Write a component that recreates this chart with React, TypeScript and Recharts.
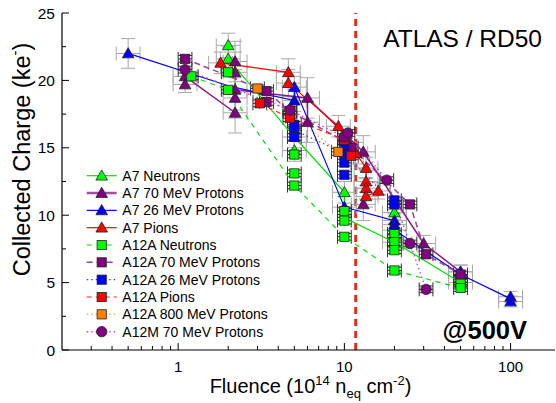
import React from 'react';
import { ScatterChart, Scatter, XAxis, YAxis, ErrorBar, ReferenceLine, Legend } from 'recharts';

type P = number[];

// ---------- data (x = fluence 1e14 neq/cm2, y = collected charge ke-, [ey]) ----------
const A7_NEUTRONS: P[] = [[2, 22.6, 0.9], [2, 21.6, 0.9], [5, 15.8, 0.8], [5, 14.8, 0.8], [10, 11.7, 0.8], [20, 10.2, 0.8], [20, 8.0, 0.6], [50, 5.0, 0.5]];
const A7_NEUTRONS_LINES: P[][] = [[[2, 21.6], [5, 15.8], [10, 11.7], [10, 9.8], [20, 8.0], [50, 5.0]]];

const A7_70MEV: P[] = [[1.1, 20.3, 0.6], [1.1, 19.7, 0.6], [2.2, 21.4, 1.5], [2.2, 20.6, 1.5], [2.2, 19.3, 1.5], [2.2, 18.7, 1.5], [2.2, 17.6, 1.5], [6, 18.7, 1.5], [6, 16.9, 1.5], [13, 14.7, 1.2], [13, 10.8, 1.2], [30, 7.9, 0.6], [50, 5.8, 0.5]];
const A7_70MEV_LINES: P[][] = [
  [[1.1, 20.3], [2.2, 17.6]],
  [[2.2, 19.3], [6, 18.7], [6, 16.9]],
  [[6, 18.7], [13, 14.7], [30, 7.9], [50, 5.8]],
];

const A7_26MEV: P[] = [[0.5, 22.0, 1.1], [5, 19.5, 0.8], [5, 18.5, 0.8], [10, 10.6, 0.8], [20, 9.6, 0.8], [20, 9.3, 0.8], [20, 8.9, 0.8], [50, 5.8, 0.5], [100, 3.95, 0.4], [100, 3.6, 0.4]];
const A7_26MEV_LINES: P[][] = [[[0.5, 22.0], [2, 19.6], [5, 18.5], [5, 19.5], [10, 10.6], [20, 9.6], [20, 8.9], [50, 5.6], [100, 3.8]]];

const A7_PIONS: P[] = [[1.8, 21.3, 0.8], [4.6, 20.6, 1.0], [4.6, 19.8, 1.0], [9.2, 16.6, 0.8], [11.7, 14.6, 0.8], [13.5, 13.5, 0.8], [13.5, 12.5, 0.8], [13.5, 12.0, 0.8], [13.5, 11.4, 0.8], [16, 11.8, 0.6]];
const A7_PIONS_LINES: P[][] = [[[1.8, 21.3], [4.6, 20.6], [4.6, 19.8], [9.2, 16.6], [11.7, 14.6], [13.5, 13.5], [13.5, 11.4], [16, 11.8]]];

const A12A_NEUTRONS: P[] = [[1.2, 20.3], [2, 20.6], [2, 19.3], [5, 14.5], [5, 13.1], [5, 12.2], [10, 10.3], [10, 9.6], [10, 8.4], [20, 8.6], [20, 8.0], [20, 7.4], [20, 5.9], [50, 5.3], [50, 5.0], [50, 4.6]];
const A12A_NEUTRONS_LINES: P[][] = [[[1.2, 20.3], [2, 19.3], [5, 12.2], [10, 8.4], [20, 5.9], [50, 4.6]]];

const A12A_70MEV: P[] = [[1.1, 21.6], [3.4, 19.2], [3.4, 18.4], [4.7, 17.7], [10, 15.5], [11, 15.0], [24.8, 10.8], [31, 7.1], [50, 5.6]];
const A12A_70MEV_LINES: P[][] = [[[1.1, 21.6], [3.4, 19.2], [4.7, 17.7], [10, 15.5], [24.8, 10.8], [31, 7.1], [50, 5.6]]];

const A12A_26MEV: P[] = [[5, 16.7], [5, 16.3], [5, 15.8], [10, 15.2], [10, 14.6], [10, 13.9], [10, 13.0], [20, 11.1], [20, 10.8]];
const A12A_26MEV_LINES: P[][] = [[[5, 16.3], [10, 14.6], [20, 10.8]]];

const A12A_PIONS: P[] = [[3.1, 18.3], [4.7, 17.2], [10, 15.6], [11, 14.4]];
const A12A_PIONS_LINES: P[][] = [[[3.1, 18.3], [4.7, 17.2], [10, 15.6], [11, 14.4]]];

const A12A_800MEV: P[] = [[3.0, 19.4], [9.2, 14.7]];
const A12A_800MEV_LINES: P[][] = [[[3.0, 19.4], [9.2, 14.7]]];

const A12M_70MEV: P[] = [[1.1, 20.8], [4.7, 17.8], [10, 15.8], [10.5, 16.1], [18, 12.6], [24.8, 7.9], [31, 4.5]];
const A12M_70MEV_LINES: P[][] = [[[1.1, 20.8], [4.7, 17.8], [10, 15.8], [10.5, 16.1], [18, 12.6], [24.8, 7.9], [31, 4.5]]];

const VERTICAL_LINE_X = 11.7;

const X_TICKS = [0.3, 0.4, 0.5, 0.6, 0.7, 0.8, 0.9, 1, 2, 3, 4, 5, 6, 7, 8, 9, 10, 20, 30, 40, 50, 60, 70, 80, 90, 100];
const X_MAJOR = [1, 10, 100];
const Y_TICKS = [0, 2.5, 5, 7.5, 10, 12.5, 15, 17.5, 20, 22.5, 25];
const Y_MAJOR = [0, 5, 10, 15, 20, 25];

const FONT = "'Liberation Sans', Arial, sans-serif";

type Kind = 'tri' | 'sq' | 'circ';
interface Series {
  name: string;
  points: P[];
  lines: P[][];
  fill: string;
  lineColor: string;
  lineWidth: number;
  dash?: string;
  legendWidth?: number;
  legendColor?: string;
  kind: Kind;
  errColor: string;
  exFrac: number;
  eyDefault: number;
}

const SERIES: Series[] = [
  { name: 'A7 Neutrons', points: A7_NEUTRONS, lines: A7_NEUTRONS_LINES, fill: '#00ff00', lineColor: '#00e000', lineWidth: 1.2, kind: 'tri', errColor: '#a8a8a8', exFrac: 0.18, eyDefault: 0.8 },
  { name: 'A7 70 MeV Protons', points: A7_70MEV, lines: A7_70MEV_LINES, fill: '#800080', lineColor: '#8a1a8a', lineWidth: 1.5, legendWidth: 2.5, legendColor: '#a050a0', kind: 'tri', errColor: '#a8a8a8', exFrac: 0.18, eyDefault: 0.8 },
  { name: 'A7 26 MeV Protons', points: A7_26MEV, lines: A7_26MEV_LINES, fill: '#0000ff', lineColor: '#0000ff', lineWidth: 1.2, kind: 'tri', errColor: '#a8a8a8', exFrac: 0.18, eyDefault: 0.8 },
  { name: 'A7 Pions', points: A7_PIONS, lines: A7_PIONS_LINES, fill: '#ff0000', lineColor: '#ff0000', lineWidth: 1.2, kind: 'tri', errColor: '#a8a8a8', exFrac: 0.18, eyDefault: 0.8 },
  { name: 'A12A Neutrons', points: A12A_NEUTRONS, lines: A12A_NEUTRONS_LINES, fill: '#00ff00', lineColor: '#00e000', lineWidth: 1.2, dash: '5 5', kind: 'sq', errColor: '#303030', exFrac: 0.1, eyDefault: 0.25 },
  { name: 'A12A 70 MeV Protons', points: A12A_70MEV, lines: A12A_70MEV_LINES, fill: '#800080', lineColor: '#a040a0', lineWidth: 1.5, dash: '6 4', kind: 'sq', errColor: '#303030', exFrac: 0.1, eyDefault: 0.25 },
  { name: 'A12A  26 MeV Protons', points: A12A_26MEV, lines: A12A_26MEV_LINES, fill: '#0000ff', lineColor: '#4040ff', lineWidth: 1.2, dash: '1.5 3', kind: 'sq', errColor: '#303030', exFrac: 0.1, eyDefault: 0.25 },
  { name: 'A12A Pions', points: A12A_PIONS, lines: A12A_PIONS_LINES, fill: '#ff0000', lineColor: '#ff2020', lineWidth: 1.2, dash: '5 4', kind: 'sq', errColor: '#303030', exFrac: 0.1, eyDefault: 0.25 },
  { name: 'A12A 800 MeV Protons', points: A12A_800MEV, lines: A12A_800MEV_LINES, fill: '#ff8000', lineColor: '#ffa860', lineWidth: 1.5, dash: '1.5 3', kind: 'sq', errColor: '#303030', exFrac: 0.1, eyDefault: 0.25 },
  { name: 'A12M 70 MeV Protons', points: A12M_70MEV, lines: A12M_70MEV_LINES, fill: '#800080', lineColor: '#c050c0', lineWidth: 1.5, dash: '1.5 3', kind: 'circ', errColor: '#303030', exFrac: 0.1, eyDefault: 0.25 },
];

function Marker({ kind, cx, cy, fill }: { kind: Kind; cx: number; cy: number; fill: string }) {
  if (cx == null || cy == null || isNaN(cx) || isNaN(cy)) return <g />;
  if (kind === 'tri') {
    return <polygon points={`${cx},${cy - 5.8} ${cx + 5.8},${cy + 4.4} ${cx - 5.8},${cy + 4.4}`} fill={fill} stroke="#222" strokeWidth={0.8} />;
  }
  if (kind === 'sq') {
    return <rect x={cx - 4.6} y={cy - 4.6} width={9.2} height={9.2} fill={fill} stroke="#222" strokeWidth={0.8} />;
  }
  return <circle cx={cx} cy={cy} r={5.2} fill={fill} stroke="#222" strokeWidth={0.8} />;
}

const toData = (s: Series) =>
  s.points.map(([x, y, ey]) => ({
    x,
    y,
    ex: [x - x / (1 + s.exFrac), x * s.exFrac],
    ey: ey ?? s.eyDefault,
  }));

const BottomTick = (props: any) => {
  const { x, y, payload } = props;
  const v = payload.value;
  const major = X_MAJOR.includes(v);
  return (
    <g>
      <line x1={x} x2={x} y1={y} y2={y - (major ? 7 : 4)} stroke="#000" strokeWidth={1} />
      {major && (
        <text x={x} y={y + 22} textAnchor="middle" fontSize={15} fontFamily={FONT} fill="#000">
          {v}
        </text>
      )}
    </g>
  );
};
const TopTick = (props: any) => {
  const { x, y, payload } = props;
  const major = X_MAJOR.includes(payload.value);
  return <line x1={x} x2={x} y1={y} y2={y + (major ? 7 : 4)} stroke="#000" strokeWidth={1} />;
};
const LeftTick = (props: any) => {
  const { x, y, payload } = props;
  const v = payload.value;
  const major = Y_MAJOR.includes(v);
  return (
    <g>
      <line x1={x} x2={x + (major ? 7 : 4)} y1={y} y2={y} stroke="#000" strokeWidth={1} />
      {major && (
        <text x={x - 7} y={y + 5.5} textAnchor="end" fontSize={15.5} fontFamily={FONT} fill="#000">
          {v}
        </text>
      )}
    </g>
  );
};
const RightTick = (props: any) => {
  const { x, y, payload } = props;
  const major = Y_MAJOR.includes(payload.value);
  return <line x1={x} x2={x - (major ? 7 : 4)} y1={y} y2={y} stroke="#000" strokeWidth={1} />;
};

// bottom-axis title plus the in-plot annotations (placed relative to the axis box)
const XTitle = (props: any) => {
  const vb = props.viewBox;
  const right = vb.x + vb.width;
  return (
    <g>
      <text x={vb.x + vb.width / 2 + 2} y={vb.y + 43} textAnchor="middle" fontSize={20} fontFamily={FONT} fill="#000">
        Fluence (10
        <tspan dy={-8} fontSize={13}>14</tspan>
        <tspan dy={8}> n</tspan>
        <tspan dy={5} fontSize={13}>eq</tspan>
        <tspan dy={-5}> cm</tspan>
        <tspan dy={-8} fontSize={13}>-2</tspan>
        <tspan dy={8}>)</tspan>
      </text>
      <text x={right - 13} y={vb.y - 303} textAnchor="end" fontSize={24.5} fontFamily={FONT} fill="#000">
        ATLAS / RD50
      </text>
      <text x={right - 28} y={vb.y - 11} textAnchor="end" fontSize={25.5} fontWeight="bold" fontFamily={FONT} fill="#000">
        @500V
      </text>
    </g>
  );
};
const YTitle = (props: any) => {
  const vb = props.viewBox;
  const cx = 30;
  const cy = vb.y + vb.height / 2 - 22;
  return (
    <text x={cx} y={cy} transform={`rotate(-90 ${cx} ${cy})`} textAnchor="middle" fontSize={23.5} fontFamily={FONT} fill="#000">
      Collected Charge (ke
      <tspan dy={-10} fontSize={15}>-</tspan>
      <tspan dy={10}>)</tspan>
    </text>
  );
};

const LegendBox = () => {
  const rowH = 17.33;
  return (
    <svg width={240} height={180}>
      {SERIES.map((s, i) => {
        const cy = 10.7 + i * rowH;
        return (
          <g key={s.name}>
            <line x1={6.7} x2={36.7} y1={cy} y2={cy} stroke={s.legendColor ?? s.lineColor} strokeWidth={s.legendWidth ?? s.lineWidth} strokeDasharray={s.dash} />
            <Marker kind={s.kind} cx={21.7} cy={cy} fill={s.fill} />
            <text x={42.3} y={cy + 5} fontSize={14} fontFamily={FONT} fill="#000">
              {s.name}
            </text>
          </g>
        );
      })}
    </svg>
  );
};

export default function App() {
  return (
    <div style={{ position: 'absolute', left: 0, top: 0, background: '#fff' }}>
      <ScatterChart width={556} height={403} margin={{ top: 13, right: 1, bottom: 0, left: 0 }}>
        <XAxis
          xAxisId={0}
          dataKey="x"
          type="number"
          scale="log"
          domain={[0.2, 185]}
          allowDataOverflow
          ticks={X_TICKS}
          interval={0}
          height={53}
          tickSize={0}
          tickMargin={0}
          tickLine={false}
          tick={BottomTick}
          axisLine={{ stroke: '#000', strokeWidth: 1.2 }}
          label={XTitle}
        />
        <XAxis
          xAxisId="top"
          orientation="top"
          dataKey="x"
          type="number"
          scale="log"
          domain={[0.2, 185]}
          allowDataOverflow
          ticks={X_TICKS}
          interval={0}
          height={0}
          tickSize={0}
          tickMargin={0}
          tickLine={false}
          tick={TopTick}
          axisLine={{ stroke: '#000', strokeWidth: 1.2 }}
        />
        <YAxis
          yAxisId={0}
          dataKey="y"
          type="number"
          domain={[0, 25]}
          allowDataOverflow
          ticks={Y_TICKS}
          interval={0}
          width={62}
          tickSize={0}
          tickMargin={0}
          tickLine={false}
          tick={LeftTick}
          axisLine={{ stroke: '#000', strokeWidth: 1.2 }}
          label={YTitle}
        />
        <YAxis
          yAxisId="right"
          orientation="right"
          dataKey="y"
          type="number"
          domain={[0, 25]}
          allowDataOverflow
          ticks={Y_TICKS}
          interval={0}
          width={0}
          tickSize={0}
          tickMargin={0}
          tickLine={false}
          tick={RightTick}
          axisLine={{ stroke: '#000', strokeWidth: 1.2 }}
        />
        <Legend
          layout="vertical"
          align="center"
          verticalAlign="middle"
          content={LegendBox}
          wrapperStyle={{ position: 'absolute', left: 80, top: 165, width: 240, height: 180 }}
        />
        <ReferenceLine xAxisId={0} yAxisId={0} x={VERTICAL_LINE_X} stroke="#d8301a" strokeWidth={3} strokeDasharray="7 5" />
        {SERIES.flatMap((s) =>
          s.lines.map((seg, j) => (
            <Scatter
              key={`${s.name}-line-${j}`}
              xAxisId="top"
              yAxisId="right"
              data={seg.map(([x, y]) => ({ x, y }))}
              line={{ stroke: s.lineColor, strokeWidth: s.lineWidth, strokeDasharray: s.dash }}
              shape={() => <g />}
              legendType="none"
              isAnimationActive={false}
            />
          ))
        )}
        {SERIES.map((s) => (
          <Scatter
            key={`${s.name}-pts`}
            name={s.name}
            xAxisId={0}
            yAxisId={0}
            data={toData(s)}
            fill={s.fill}
            shape={(p: any) => <Marker kind={s.kind} cx={p.cx} cy={p.cy} fill={s.fill} />}
            isAnimationActive={false}
          >
            <ErrorBar dataKey="ex" direction="x" width={7} stroke={s.errColor} strokeWidth={1} />
            <ErrorBar dataKey="ey" direction="y" width={7} stroke={s.errColor} strokeWidth={1} />
          </Scatter>
        ))}
      </ScatterChart>
    </div>
  );
}
